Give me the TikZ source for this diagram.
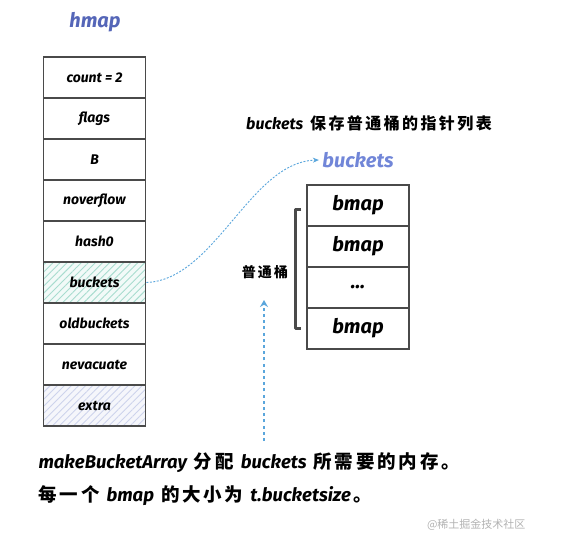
\documentclass[tikz,border=0pt]{standalone}
\usepackage{fontspec}
\setmainfont{Fira Sans}
\newfontfamily\cjk{Noto Sans CJK SC}
\newfontfamily\cjkwide{Noto Sans CJK SC}[LetterSpace=15]
\usetikzlibrary{patterns.meta,arrows.meta}
\definecolor{edge}{HTML}{4A4A4A}
\definecolor{titleblue}{HTML}{5566B8}
\definecolor{labelblue}{HTML}{7186D8}
\definecolor{arrowblue}{HTML}{5AA6DC}
\definecolor{tealhatch}{HTML}{A8DCCF}
\definecolor{purplehatch}{HTML}{CDD3EC}
\newcommand{\gp}{\hspace{7pt}}
\tikzset{
  cell/.style={draw=edge, line width=1.6pt, minimum width=102pt, minimum height=41pt, inner sep=0pt, font=\fontsize{14}{16}\selectfont\itshape\bfseries},
  bcell/.style={cell, font=\fontsize{20}{22}\selectfont\itshape\bfseries},
  conn/.style={arrowblue, line width=0.9pt, dash pattern=on 2pt off 1.5pt, -{Stealth[length=6pt,width=5pt]}},
}
\begin{document}
\begin{tikzpicture}[x=1pt,y=-1pt]
\useasboundingbox (0,0) rectangle (578,549);
\node[font=\fontsize{20}{22}\selectfont\itshape\bfseries, text=titleblue] (title) at (95,22) {hmap};
% left stack
\node[cell] (count) at (94.5,77.5) {count = 2};
\node[cell] (flags) at (94.5,118.5) {flags};
\node[cell] (B) at (94.5,159.5) {B};
\node[cell] (nover) at (94.5,200.5) {noverflow};
\node[cell] (hash) at (94.5,241.5) {hash0};
\fill[tealhatch!15] (44,262) rectangle (145,303);
\fill[pattern={Lines[angle=45,distance=5pt,line width=0.9pt]}, pattern color=tealhatch] (44,262) rectangle (145,303);
\node[cell] (bkt) at (94.5,282.5) {buckets};
\node[cell] (old) at (94.5,323.5) {oldbuckets};
\node[cell] (nev) at (94.5,364.5) {nevacuate};
\fill[purplehatch!20] (44,385) rectangle (145,426);
\fill[pattern={Lines[angle=45,distance=5pt,line width=0.9pt]}, pattern color=purplehatch] (44,385) rectangle (145,426);
\node[cell] (extra) at (94.5,405.5) {extra};
% caption
\node[anchor=center, font=\fontsize{16}{18}\selectfont] (cap) at (369,123) {{\itshape\bfseries buckets}\gp{\cjkwide\bfseries 保存普通桶的指针列表}};
\node[font=\fontsize{20}{22}\selectfont\itshape\bfseries, text=labelblue] (blab) at (358,160) {buckets};
% right stack
\node[bcell] (b1) at (358,205.5) {bmap};
\node[bcell] (b2) at (358,246.5) {bmap};
\node[bcell] (b3) at (358,287.5) {...};
\node[bcell] (b4) at (358,328.5) {bmap};
% bracket
\draw[edge, line width=3pt, line join=round] (301,209) -- (295,209) -- (295,328) -- (301,328);
\node[font=\fontsize{14}{16}\selectfont\cjkwide\bfseries] (pt) at (265,272) {普通桶};
% connectors
\draw[conn] (bkt.east) .. controls (215,280) and (250,162) .. (blab.west);
\coordinate (ds) at (264,441);
\coordinate (de) at (264,300);
\draw[arrowblue, line width=2pt, dash pattern=on 3pt off 3.2pt, -{Stealth[length=7pt,width=8pt]}] (ds) -- (de);
% bottom text
\node[anchor=west, font=\fontsize{18.5}{20}\selectfont] (l1) at (35,463) {{\itshape\bfseries makeBucketArray}\gp{\cjkwide\bfseries 分配}\gp{\itshape\bfseries buckets}\gp{\cjkwide\bfseries 所需要的内存。}};
\node[anchor=west, font=\fontsize{18.5}{20}\selectfont] (l2) at (35,496) {{\cjkwide\bfseries 每一个}\gp{\itshape\bfseries bmap}\gp{\cjkwide\bfseries 的大小为}\gp{\itshape\bfseries t.bucketsize}\hspace{3pt}{\cjk\bfseries 。}};
\node[anchor=east, font=\fontsize{11}{13}\selectfont\cjk, text=black!30] (wm) at (529,525) {@稀土掘金技术社区};
\end{tikzpicture}
\end{document}
